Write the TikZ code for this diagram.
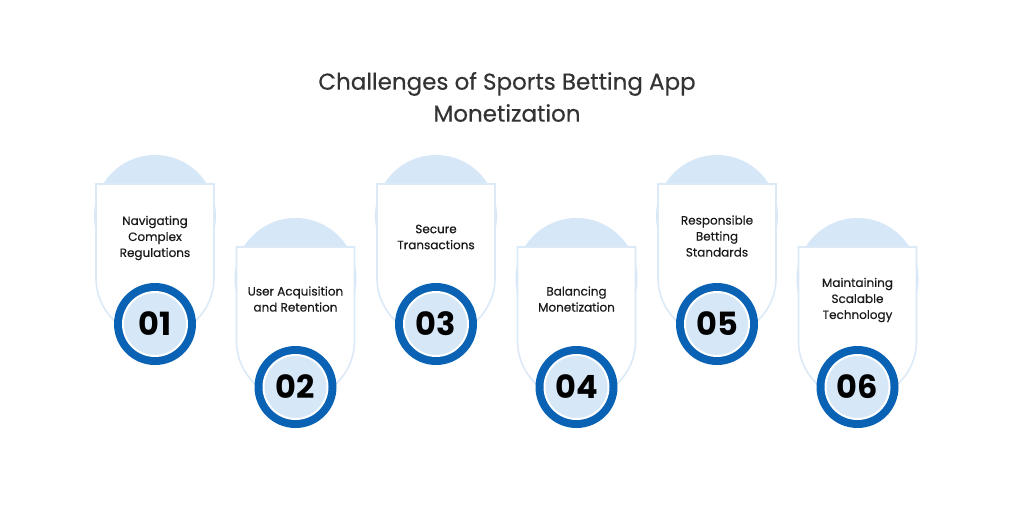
\documentclass[tikz,border=0pt]{standalone}
\usepackage{fontspec}
\setmainfont{Poppins}
\newfontfamily\medfont{Poppins}[FakeBold=0.35]
\definecolor{dome}{HTML}{D6E7F8}
\definecolor{edge}{HTML}{DCE9F7}
\definecolor{ring}{HTML}{0A62B5}
\definecolor{inner}{HTML}{D6E7F8}
\definecolor{titlec}{HTML}{333333}
\tikzset{
  domefill/.style={fill=dome},
  cardbox/.style={fill=white, draw=edge, line width=1.6pt},
  ringdisc/.style={circle, fill=ring, minimum size=82pt, inner sep=0pt},
  numdisc/.style={circle, fill=inner, draw=white, line width=2pt, minimum size=64pt, inner sep=0pt, font=\fontsize{32}{32}\selectfont\bfseries, text=black},
  cardtext/.style={align=center, font=\fontsize{12}{16}\selectfont\medfont, text=black!90},
  titletext/.style={align=center, font=\fontsize{23}{32}\selectfont\medfont, text=titlec}
}
\begin{document}
\begin{tikzpicture}[x=1pt,y=-1pt]
\useasboundingbox (0,0) rectangle (1014,507);
\fill[white] (0,0) rectangle (1014,507);
\node[titletext] (title) at (507,97) {Challenges of Sports Betting App\\Monetization};
\foreach \i/\cx/\top/\dy/\txt in {
  1/155/184/54/{Navigating\\Complex\\Regulations},
  2/295.5/247/52/{User Acquisition\\and Retention},
  3/436/184/53/{Secure\\Transactions},
  4/576.5/247/52/{Balancing\\Monetization},
  5/717/184/52/{Responsible\\Betting\\Standards},
  6/857.5/247/53/{Maintaining\\Scalable\\Technology}}{
  \fill[domefill] (\cx,\top+32) circle[radius=61];
  \draw[cardbox] (\cx-59,\top) -- (\cx-59,\top+94) arc[start angle=180, end angle=0, radius=59] -- (\cx+59,\top) -- cycle;
  \node[cardtext] (text\i) at (\cx,\top+\dy) {\txt};
  \node[ringdisc] (ring\i) at (\cx,\top+140) {};
  \node[numdisc] (num\i) at (ring\i) {0\i};
}
\end{tikzpicture}
\end{document}
